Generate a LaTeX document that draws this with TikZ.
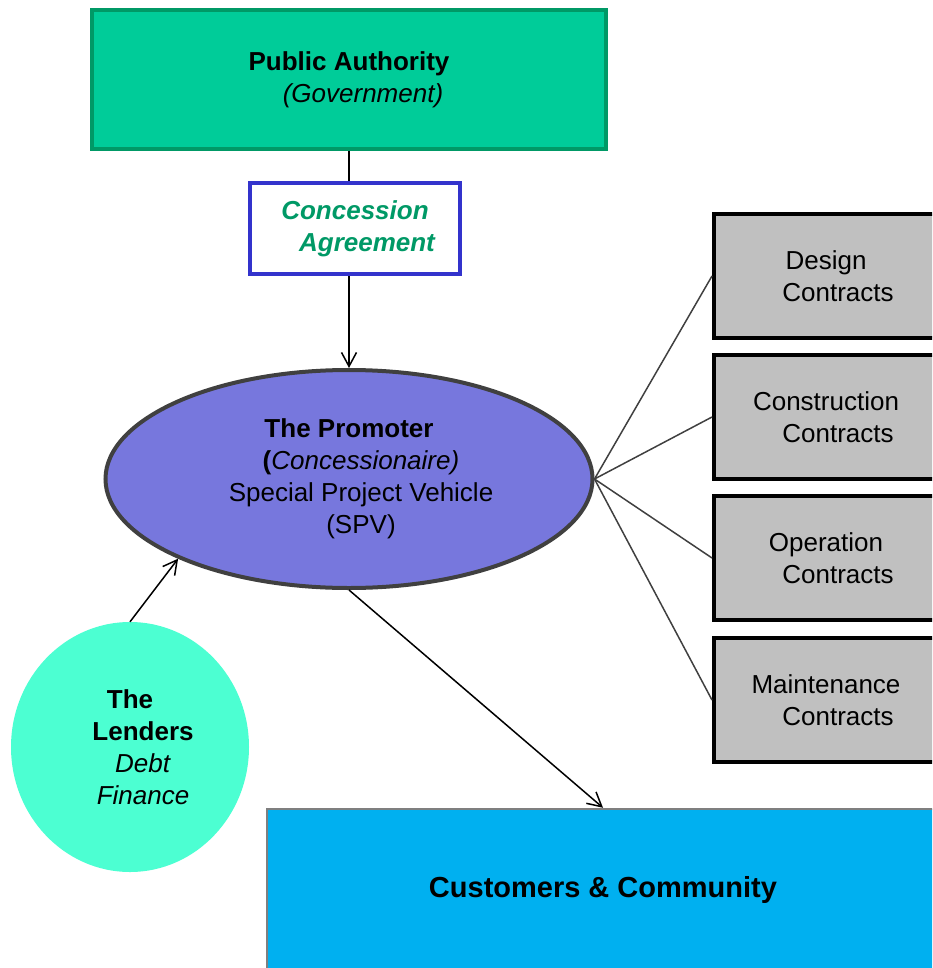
\documentclass[tikz,border=0pt]{standalone}
\usepackage{fontspec}
\setmainfont{Liberation Sans}
\usetikzlibrary{shapes.geometric,arrows.meta}
\definecolor{authfill}{HTML}{00CC99}
\definecolor{authline}{HTML}{009966}
\definecolor{agreeline}{HTML}{3333CC}
\definecolor{promfill}{HTML}{7777DD}
\definecolor{promline}{HTML}{404040}
\definecolor{contractfill}{HTML}{C0C0C0}
\definecolor{lendfill}{HTML}{4CFFD2}
\definecolor{custfill}{HTML}{00B0F0}
\definecolor{custline}{HTML}{7F7F7F}
\begin{document}
\begin{tikzpicture}[x=1pt, y=-1pt,
    font=\fontsize{26}{32}\selectfont,
    >={Straight Barb[length=14pt,width=15pt]},
    box/.style={draw, line width=4pt, inner sep=0pt, align=center},
    contract/.style={box, fill=contractfill, minimum width=224pt, minimum height=124pt},
    link/.style={line width=1.5pt},
    spoke/.style={line width=1.5pt, draw=promline}]
      \useasboundingbox (0,0) rectangle (932,968);
      \clip (0,0) rectangle (932,968);
      %
      \node[box, draw=authline, fill=authfill, minimum width=514pt, minimum height=139pt]
        (authority) at (349,79.5) {\textbf{Public Authority}\\\hspace*{28pt}\textit{(Government)}};
      \node[box, draw=agreeline, fill=white, text=authline, font=\fontsize{26}{32}\selectfont\bfseries\itshape,
        minimum width=210pt, minimum height=91pt]
        (agreement) at (355,228.5) {Concession\\\hspace*{24pt}Agreement};
      %
      \node[box, ellipse, draw=promline, fill=promfill, minimum width=487pt, minimum height=218pt]
        (promoter) at (349,479) {\textbf{The Promoter}\\\hspace*{24pt}\textbf{(}\textit{Concessionaire)}\\
        \hspace*{24pt}Special Project Vehicle\\\hspace*{24pt}(SPV)};
      %
      \node[ellipse, fill=lendfill, inner sep=0pt, align=center, minimum width=238pt, minimum height=250pt]
        (lenders) at (130,747) {\textbf{The}\\\hspace*{26pt}\textbf{Lenders}\\\hspace*{26pt}\textit{Debt}\\
        \hspace*{26pt}\textit{Finance}};
      %
      \node[contract] (design) at (826,276) {Design\\\hspace*{24pt}Contracts};             % contracts
      \node[contract] (construction) at (826,417) {Construction\\\hspace*{24pt}Contracts};
      \node[contract] (operation) at (826,558) {Operation\\\hspace*{24pt}Contracts};
      \node[contract] (maintenance) at (826,700) {Maintenance\\\hspace*{24pt}Contracts};
      %
      \node[box, draw=custline, line width=2.5pt, fill=custfill, minimum width=672pt, minimum height=162pt,
        font=\fontsize{29}{34}\selectfont\bfseries]
        (customers) at (603,890) {Customers \& Community};
      %
      \draw[link] (authority.south) -- (authority.south |- agreement.north);
      \draw[link,->] (agreement.south -| authority.south) -- (promoter.north);
      \draw[link,->] (lenders.north) -- (promoter.205);
      \draw[link,->] (promoter.south) -- (customers.north);
      %
      \foreach \c in {design,construction,operation,maintenance}
        \draw[spoke] (promoter.east) -- (\c.west);
      %
    \end{tikzpicture}
\end{document}
